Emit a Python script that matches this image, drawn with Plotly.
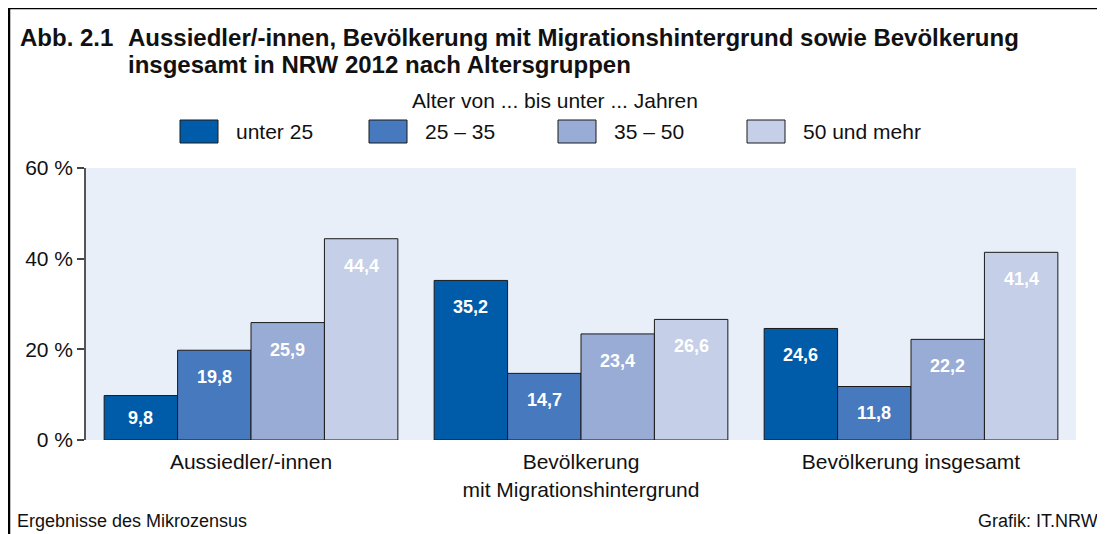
import plotly.graph_objects as go

# ---- data ----
categories = ["Aussiedler/-innen", "Bevölkerung<br>mit Migrationshintergrund", "Bevölkerung insgesamt"]
series_names = ["unter 25", "25 – 35", "35 – 50", "50 und mehr"]
unter_25 = [9.8, 35.2, 24.6]
von_25_35 = [19.8, 14.7, 11.8]
von_35_50 = [25.9, 23.4, 22.2]
ab_50 = [44.4, 26.6, 41.4]
series_values = [unter_25, von_25_35, von_35_50, ab_50]
y_ticks = [0, 20, 40, 60]
y_tick_labels = [f"{t} %" for t in y_ticks]

colors = ["#005CA9", "#4679BE", "#98ACD6", "#C5CFE7"]
FONT = "Liberation Sans, Arial, sans-serif"
TXT = "#111111"

OFF = 8  # page body margin
W, H = 1105 - OFF, 534 - OFF
ML, MR, MT, MB = 86 - OFF, 29, 168 - OFF, 94
PW, PH = W - ML - MR, H - MT - MB


def px(x):
    return (x - OFF - ML) / PW


def py(y):
    return (H - MB - (y - OFF)) / PH


bargap = 0.11
n = len(series_names)
bw = (1 - bargap) / n

annotations = []
fig = go.Figure()
for i, (name, vals) in enumerate(zip(series_names, series_values)):
    fig.add_trace(go.Bar(
        x=list(range(len(categories))), y=vals, name=name,
        marker=dict(color=colors[i], line=dict(color="#1a1a1a", width=1)),
        showlegend=False, hoverinfo="y+name",
    ))
    for ci, v in enumerate(vals):
        hpx = v / y_ticks[-1] * PH
        shift = -min(27, hpx / 2)
        annotations.append(dict(
            x=ci + (i - (n - 1) / 2) * bw, y=v, xref="x", yref="y",
            text="<b>" + f"{v:.1f}".replace(".", ",") + "</b>",
            showarrow=False, yshift=shift, yanchor="middle", xanchor="center",
            font=dict(family=FONT, size=18, color="white"),
        ))


def label(x, y, text, size, xanchor="left", bold=False):
    annotations.append(dict(
        x=px(x), y=py(y), xref="paper", yref="paper", xanchor=xanchor, yanchor="middle",
        text=f"<b>{text}</b>" if bold else text, showarrow=False,
        font=dict(family=FONT, size=size, color=TXT)))


# title
label(18, 38, "Abb. 2.1", 24, bold=True)
label(126, 38, "Aussiedler/-innen, Bevölkerung mit Migrationshintergrund sowie Bevölkerung", 24, bold=True)
label(126, 64, "insgesamt in NRW 2012 nach Altersgruppen", 24, bold=True)
# legend title
label(555, 100, "Alter von ... bis unter ... Jahren", 21, xanchor="center")
# footer
label(15, 521, "Ergebnisse des Mikrozensus", 18)
label(1100, 521, "Grafik: IT.NRW", 18, xanchor="right")

shapes = []
# custom legend
leg_x0, leg_step = 180, 189
for i, name in enumerate(series_names):
    bx = leg_x0 + i * leg_step
    shapes.append(dict(type="rect", xref="paper", yref="paper",
                       x0=px(bx), x1=px(bx + 38), y0=py(143), y1=py(120),
                       fillcolor=colors[i], line=dict(color="#1a1a1a", width=1)))
    label(bx + 54, 131, name, 21)

# outer frame (bottom edge lies outside the picture)
shapes.append(dict(type="rect", xref="paper", yref="paper",
                   x0=px(9), x1=px(1103), y0=py(580), y1=py(8),
                   line=dict(color="#000", width=2.5), fillcolor="rgba(0,0,0,0)"))

fig.update_layout(
    width=W, height=H,
    margin=dict(l=ML, r=MR, t=MT, b=MB),
    paper_bgcolor="white", plot_bgcolor="#E8EFF9",
    barmode="group", bargap=bargap, bargroupgap=0,
    annotations=annotations, shapes=shapes,
    showlegend=False,
    font=dict(family=FONT, color=TXT),
)
fig.update_xaxes(
    range=[-0.5, len(categories) - 0.5],
    tickmode="array", tickvals=list(range(len(categories))), ticktext=categories,
    ticks="outside", ticklen=3, tickcolor="rgba(0,0,0,0)",
    tickfont=dict(family=FONT, size=21, color=TXT),
    showgrid=False, zeroline=False, showline=False,
)
fig.update_yaxes(
    range=[0, y_ticks[-1]], tickmode="array", tickvals=y_ticks, ticktext=y_tick_labels,
    ticks="outside", ticklen=7, tickcolor="#444", tickwidth=1.5,
    showline=True, linecolor="#555", linewidth=1.5,
    tickfont=dict(family=FONT, size=21, color=TXT),
    showgrid=False, zeroline=False,
)

fig.write_html("out.html")
